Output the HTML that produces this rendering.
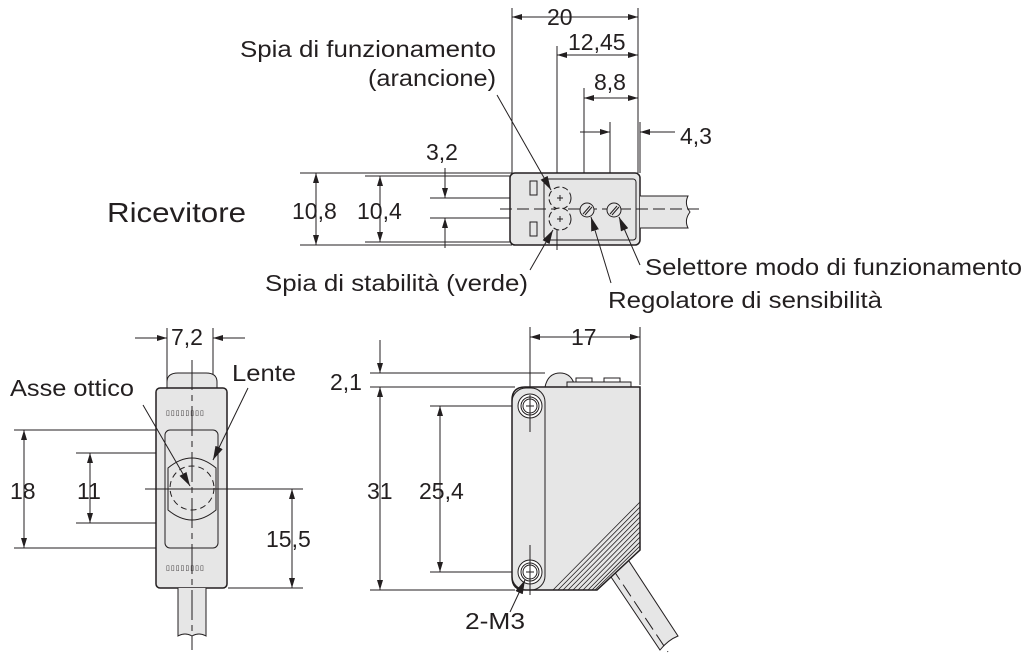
<!DOCTYPE html>
<html><head><meta charset="utf-8"><style>
html,body{margin:0;padding:0;background:#fff;width:1028px;height:656px;overflow:hidden}
svg{display:block}
text{font-family:"Liberation Sans",sans-serif;fill:#231f20}
</style></head><body>
<svg width="1028" height="656" viewBox="0 0 1028 656" xmlns="http://www.w3.org/2000/svg">
<defs>
<marker id="a" viewBox="0 0 10 6" refX="10" refY="3" markerWidth="10" markerHeight="6" orient="auto-start-reverse" markerUnits="userSpaceOnUse"><path d="M0,0 L10,3 L0,6z" fill="#231f20"/></marker>
<marker id="b" viewBox="0 0 14 8" refX="14" refY="4" markerWidth="14" markerHeight="8" orient="auto" markerUnits="userSpaceOnUse"><path d="M0,0 L14,4 L0,8z" fill="#231f20"/></marker>
</defs>
<g stroke="#231f20" stroke-width="1" fill="none">
<!-- TOP VIEW -->
<line x1="512" y1="8" x2="512" y2="173"/><line x1="638" y1="8" x2="638" y2="173"/>
<line x1="512" y1="17" x2="638" y2="17" marker-start="url(#a)" marker-end="url(#a)"/>
<line x1="557" y1="46" x2="557" y2="200"/>
<line x1="557" y1="55" x2="638" y2="55" marker-start="url(#a)" marker-end="url(#a)"/>
<line x1="584" y1="88" x2="584" y2="200"/>
<line x1="584" y1="98" x2="638" y2="98" marker-start="url(#a)" marker-end="url(#a)"/>
<line x1="610" y1="122" x2="610" y2="200"/><line x1="640" y1="122" x2="640" y2="173"/>
<line x1="580" y1="132" x2="610" y2="132" marker-end="url(#a)"/>
<line x1="675" y1="132" x2="640" y2="132" marker-end="url(#a)"/>
<line x1="300" y1="173" x2="512" y2="173"/><line x1="300" y1="245" x2="512" y2="245"/>
<line x1="365" y1="176" x2="512" y2="176"/><line x1="365" y1="242" x2="512" y2="242"/>
<line x1="430" y1="198" x2="550" y2="198"/><line x1="430" y1="218" x2="550" y2="218"/>
<line x1="316" y1="173" x2="316" y2="245" marker-start="url(#a)" marker-end="url(#a)"/>
<line x1="380" y1="176" x2="380" y2="242" marker-start="url(#a)" marker-end="url(#a)"/>
<line x1="445" y1="168" x2="445" y2="198" marker-end="url(#a)"/>
<line x1="445" y1="248" x2="445" y2="218" marker-end="url(#a)"/>
<rect x="510" y="173" width="130" height="72" rx="5" fill="#e6e6e6" stroke-width="1.5"/>
<rect x="544" y="179" width="92" height="61" rx="3"/>
<rect x="530" y="181" width="7" height="14"/><rect x="530" y="222" width="7" height="14"/>
<path d="M640,196 H688 Q684,204 690,212 Q684,220 688,228 H640" fill="#e6e6e6"/>
<line x1="500" y1="209" x2="700" y2="209" stroke-dasharray="12,5"/>
<circle cx="560" cy="198" r="11" stroke-dasharray="6,3" fill="#e6e6e6"/>
<circle cx="560" cy="219" r="11" stroke-dasharray="6,3" fill="#e6e6e6"/>
<path d="M557,198h6M560,195v6M557,219h6M560,216v6"/>
<circle cx="587" cy="210" r="7" fill="#e6e6e6"/><path d="M583,214l7,-8M585,215l7,-8"/>
<circle cx="614" cy="210" r="7" fill="#e6e6e6"/><path d="M610,214l7,-8M612,215l7,-8"/>
<line x1="557" y1="230" x2="557" y2="250"/>
<line x1="497" y1="95" x2="551" y2="190" marker-end="url(#b)"/>
<line x1="530" y1="270" x2="553" y2="230" marker-end="url(#b)"/>
<line x1="611" y1="283" x2="591" y2="217" marker-end="url(#b)"/>
<line x1="640" y1="265" x2="619" y2="217" marker-end="url(#b)"/>

<!-- SIDE VIEW -->
<line x1="167" y1="328" x2="167" y2="430"/><line x1="213" y1="328" x2="213" y2="430"/>
<line x1="135" y1="338" x2="167" y2="338" marker-end="url(#a)"/>
<line x1="245" y1="338" x2="213" y2="338" marker-end="url(#a)"/>
<line x1="14" y1="430" x2="165" y2="430"/><line x1="14" y1="548" x2="165" y2="548"/>
<line x1="76" y1="453" x2="176" y2="453"/><line x1="76" y1="523" x2="176" y2="523"/>
<line x1="24" y1="430" x2="24" y2="548" marker-start="url(#a)" marker-end="url(#a)"/>
<line x1="90" y1="453" x2="90" y2="523" marker-start="url(#a)" marker-end="url(#a)"/>
<path d="M167,390 V382 Q167,373 178,373 H206 Q217,373 217,382 V390" fill="#e6e6e6"/>
<rect x="156" y="388" width="71" height="200" rx="4" fill="#e6e6e6" stroke-width="1.5"/>
<rect x="165" y="430" width="53" height="118" rx="5"/>
<path d="M168,468 Q192,448 216,468 V510 Q192,530 168,510 Z" fill="#e6e6e6"/>
<circle cx="192" cy="488" r="22" stroke-dasharray="6,4"/>
<text x="166" y="415" font-size="7" style="letter-spacing:1px" stroke="none">▯▯▯▯▯▯▯▯</text>
<text x="166" y="570" font-size="7" style="letter-spacing:1px" stroke="none">▯▯▯▯▯▯▯▯</text>
<path d="M178,588 V636 Q185,632 192,636 Q199,632 206,636 V588" fill="#e6e6e6"/>
<line x1="192" y1="360" x2="192" y2="650" stroke-dasharray="30,5,6,5"/>
<line x1="145" y1="489" x2="303" y2="489"/><line x1="228" y1="588" x2="303" y2="588"/>
<line x1="292" y1="489" x2="292" y2="588" marker-start="url(#a)" marker-end="url(#a)"/>
<line x1="143" y1="405" x2="190" y2="486" marker-end="url(#b)"/>
<line x1="248" y1="388" x2="213" y2="460" marker-end="url(#b)"/>

<!-- FRONT VIEW -->
<line x1="530" y1="327" x2="530" y2="395"/><line x1="640" y1="327" x2="640" y2="385"/>
<line x1="530" y1="337" x2="640" y2="337" marker-start="url(#a)" marker-end="url(#a)"/>
<line x1="370" y1="373" x2="545" y2="373"/><line x1="370" y1="387" x2="515" y2="387"/>
<line x1="370" y1="590" x2="515" y2="590"/>
<line x1="430" y1="406" x2="555" y2="406"/><line x1="430" y1="572" x2="555" y2="572"/>
<line x1="380" y1="340" x2="380" y2="373" marker-end="url(#a)"/>
<line x1="380" y1="387" x2="380" y2="590" marker-start="url(#a)" marker-end="url(#a)"/>
<line x1="440" y1="406" x2="440" y2="572" marker-start="url(#a)" marker-end="url(#a)"/>
<path d="M545,387 Q548,373 560,373 Q572,373 575,387" fill="#e6e6e6"/>
<rect x="567" y="382" width="64" height="5" fill="#e6e6e6"/>
<rect x="576" y="378" width="16" height="4"/><rect x="604" y="378" width="16" height="4"/>
<path d="M605,568 L660,650 Q668,640 678,636 L625,555 Z" fill="#e6e6e6"/>
<line x1="612" y1="568" x2="668" y2="652" stroke-dasharray="14,6"/>
<path d="M525,387 H640 V550 L597,590 H525 Q512,590 512,577 V400 Q512,387 525,387 Z" fill="#e6e6e6" stroke-width="1.5"/>
<path d="M640,502 L553,590 M640,507 L558,590 M640,512 L563,590 M640,517 L568,590 M640,522 L573,590 M640,527 L578,590 M640,532 L583,590 M640,537 L588,590 M640,542 L592,590 M640,546 L595,590" stroke-width="0.8"/>
<rect x="512" y="388" width="33" height="202" rx="14"/>
<circle cx="530" cy="406" r="12" fill="#fff"/><circle cx="530" cy="406" r="9"/><circle cx="530" cy="406" r="7"/>
<circle cx="530" cy="572" r="12" fill="#fff"/><circle cx="530" cy="572" r="9"/><circle cx="530" cy="572" r="7"/>
<path d="M526,406h8M530,402v8M526,572h8M530,568v8"/>
<line x1="530" y1="395" x2="530" y2="432"/><line x1="530" y1="545" x2="530" y2="595"/>
<line x1="510" y1="612" x2="525" y2="580" marker-end="url(#b)"/>
</g>
<g font-size="23">
<text x="240" y="57" textLength="256" lengthAdjust="spacingAndGlyphs">Spia di funzionamento</text>
<text x="368" y="86" textLength="128" lengthAdjust="spacingAndGlyphs">(arancione)</text>
<text x="547" y="25">20</text>
<text x="568" y="50">12,45</text>
<text x="594" y="90">8,8</text>
<text x="680" y="144">4,3</text>
<text x="426" y="160">3,2</text>
<text x="107" y="222" font-size="28" textLength="139" lengthAdjust="spacingAndGlyphs">Ricevitore</text>
<text x="292" y="219">10,8</text>
<text x="357" y="219">10,4</text>
<text x="265" y="291" textLength="263" lengthAdjust="spacingAndGlyphs">Spia di stabilità (verde)</text>
<text x="645" y="275" textLength="377" lengthAdjust="spacingAndGlyphs">Selettore modo di funzionamento</text>
<text x="608" y="308" textLength="274" lengthAdjust="spacingAndGlyphs">Regolatore di sensibilità</text>
<text x="171" y="345">7,2</text>
<text x="10" y="396" textLength="124" lengthAdjust="spacingAndGlyphs">Asse ottico</text>
<text x="232" y="381" textLength="64" lengthAdjust="spacingAndGlyphs">Lente</text>
<text x="10" y="499">18</text>
<text x="77" y="499">11</text>
<text x="266" y="547">15,5</text>
<text x="571" y="345">17</text>
<text x="330" y="390">2,1</text>
<text x="367" y="499">31</text>
<text x="419" y="499">25,4</text>
<text x="465" y="629" textLength="60" lengthAdjust="spacingAndGlyphs">2-M3</text>
</g>
</svg>
</body></html>
